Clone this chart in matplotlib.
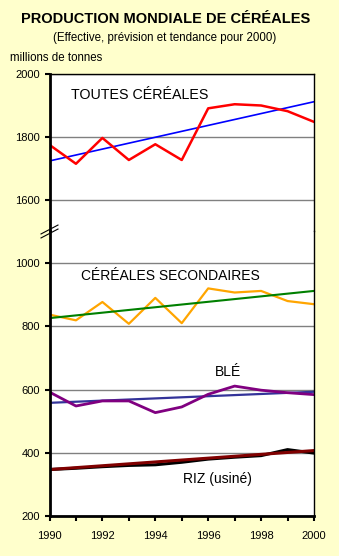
import numpy as np
import matplotlib
matplotlib.use("Agg")
from matplotlib import pyplot as plt

plt.rcParams['font.family'] = ['Liberation Sans', 'DejaVu Sans']

years = [1990, 1991, 1992, 1993, 1994, 1995, 1996, 1997, 1998, 1999, 2000]
toutes = [1775, 1715, 1797, 1727, 1777, 1727, 1891, 1904, 1900, 1882, 1848]
toutes_tend = [1724, 1912]
secondaires = [837, 819, 877, 808, 890, 810, 920, 907, 912, 880, 870]
secondaires_tend = [826, 912]
ble = [592, 548, 564, 564, 527, 545, 585, 611, 598, 590, 584]
ble_tend = [558, 593]
riz = [347, 351, 356, 360, 362, 370, 380, 386, 391, 410, 399]
riz_tend = [347, 407]
tend_years = [1990, 2000]

bg = '#FFFFCC'
fig = plt.figure(figsize=(3.39, 5.56), dpi=100, facecolor=bg)

left, right = 49.5 / 339, 314 / 339
top = 1 - 74 / 556
split = 1 - 231.5 / 556
bottom = 1 - 516 / 556

ax_top = fig.add_axes([left, split, right - left, top - split])
ax_bot = fig.add_axes([left, bottom, right - left, split - bottom])

for ax in (ax_top, ax_bot):
        ax.set_facecolor('white')
        ax.set_xlim(1990, 2000)
        for s in ax.spines.values():
                s.set_color('black')
                s.set_linewidth(1.0)
        ax.spines['left'].set_linewidth(2.0)
        ax.tick_params(axis='y', direction='out', length=3.5, width=1.5, labelsize=8, pad=3.5)
        ax.yaxis.grid(True, color='#808080', linewidth=1.0)
        ax.set_axisbelow(True)

ax_top.set_ylim(1500, 2000)
ax_top.set_yticks([1600, 1800, 2000])
ax_top.spines['bottom'].set_visible(False)
ax_top.tick_params(axis='x', bottom=False, labelbottom=False)

ax_bot.set_ylim(200, 1100)
ax_bot.set_yticks([200, 400, 600, 800, 1000])
ax_bot.spines['top'].set_visible(False)
ax_bot.spines['bottom'].set_linewidth(2.0)
ax_bot.set_xticks(years)
ax_bot.set_xticklabels([str(y) if y % 2 == 0 else '' for y in years])
ax_bot.tick_params(axis='x', direction='out', length=3.5, width=1.5, labelsize=8, pad=7)

# toutes cereales
ax_top.plot(tend_years, toutes_tend, color='#0000FF', linewidth=1.2)
ax_top.plot(years, toutes, color='#FF0000', linewidth=1.8)
ax_top.text(1990.8, 1934, 'TOUTES CÉRÉALES', fontsize=10.3, va='center')

# cereales secondaires
ax_bot.plot(years, secondaires, color='#FFA500', linewidth=1.6)
ax_bot.plot(tend_years, secondaires_tend, color='#008000', linewidth=1.5)
ax_bot.text(1991.2, 960, 'CÉRÉALES SECONDAIRES', fontsize=10, va='center')

# ble
ax_bot.plot(tend_years, ble_tend, color='#333399', linewidth=1.6)
ax_bot.plot(years, ble, color='#800080', linewidth=2.0)
ax_bot.text(1996.25, 655, 'BLÉ', fontsize=10, va='center')

# riz
ax_bot.plot(years, riz, color='black', linewidth=2.2)
ax_bot.plot(tend_years, riz_tend, color='#800000', linewidth=2.2)
ax_bot.text(1995.05, 316, 'RIZ (usiné)', fontsize=10, va='center')

# axis break mark
for dy in (-2.0, 2.0):
        fig.lines.append(plt.Line2D([left - 0.025, left + 0.025],
                                    [split - 0.008 + dy / 556, split + 0.008 + dy / 556],
                                    color='black', linewidth=0.8, transform=fig.transFigure))

fig.text(0.488, 1 - 19 / 556, 'PRODUCTION MONDIALE DE CÉRÉALES', fontsize=10.5,
         fontweight='bold', ha='center', va='center')
fig.text(0.487, 1 - 38 / 556, '(Effective, prévision et tendance pour 2000)', fontsize=8.3,
         ha='center', va='center')
fig.text(10 / 339, 1 - 58 / 556, 'millions de tonnes', fontsize=8.3, ha='left', va='center')

fig.savefig('out.png', dpi=100, facecolor=bg)
